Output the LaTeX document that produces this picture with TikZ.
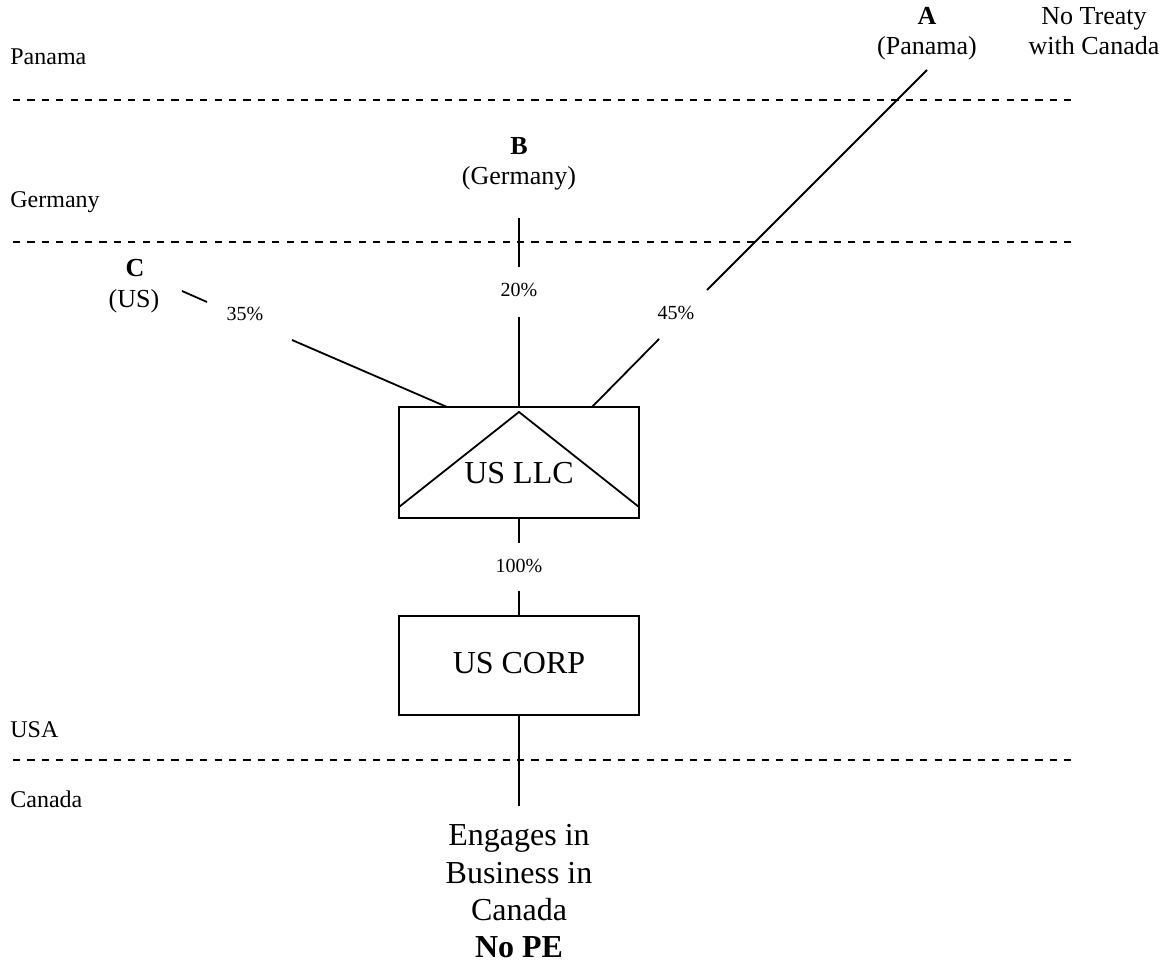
\documentclass[tikz,border=0pt]{standalone}
\usepackage{fontspec}
\setmainfont{Liberation Serif}
\begin{document}
\begin{tikzpicture}[x=0.5pt,y=-0.5pt,
  country/.style={font=\fontsize{12}{14}\selectfont, anchor=base west, inner sep=0pt},
  ent/.style={font=\fontsize{13}{15}\selectfont, anchor=base, inner sep=0pt},
  pct/.style={font=\fontsize{10}{12}\selectfont, anchor=base, inner sep=0pt},
  big/.style={font=\fontsize{16}{18.5}\selectfont, anchor=base, inner sep=0pt},
  border/.style={line width=0.75pt, dash pattern=on 3.6pt off 3.6pt},
  conn/.style={line width=0.9pt},
  box/.style={draw, line width=1pt, inner sep=0pt, minimum width=120pt}
]
\useasboundingbox (0,0) rectangle (1168,962);

% country labels and borders
\node[country] (lpan) at (10,65) {Panama};
\node[country] (lger) at (10,208) {Germany};
\node[country] (lusa) at (10,737) {USA};
\node[country] (lcan) at (10,807) {Canada};
\coordinate (d1l) at (13,100); \coordinate (d1r) at (1072,100);
\coordinate (d2l) at (13,242); \coordinate (d2r) at (1072,242);
\coordinate (d3l) at (13,760); \coordinate (d3r) at (1072,760);
\draw[border] (d1l) -- (d1r);
\draw[border] (d2l) -- (d2r);
\draw[border] (d3l) -- (d3r);

% shareholders
\node[ent] (A) at (927,25) {\textbf{A}};
\node[ent] (Aname) at (927,55) {(Panama)};
\node[ent] (nt1) at (1094,25) {No Treaty};
\node[ent] (nt2) at (1094,55) {with Canada};
\node[ent] (B) at (519,155) {\textbf{B}};
\node[ent] (Bname) at (519,185) {(Germany)};
\node[ent] (C) at (135,277) {\textbf{C}};
\node[ent] (Cname) at (134,308) {(US)};

% boxes
\node[box, minimum height=55.5pt] (llc) at (519,462.5) {};
\node[big] (llct) at (519,484) {US LLC};
\coordinate (t1) at (399,507); \coordinate (t2) at (519,412); \coordinate (t3) at (639,507);
\draw[conn] (t1) -- (t2) -- (t3);
\node[box, minimum height=49.5pt] (corp) at (519,665.5) {};
\node[big] (corpt) at (519,673) {US CORP};

% percentages
\node[pct] (p20) at (519,297) {20\%};
\node[pct] (p45) at (676,320) {45\%};
\node[pct] (p35) at (245,321) {35\%};
\node[pct] (p100) at (519,573) {100\%};

% connectors
\coordinate (b1) at (519,218); \coordinate (b2) at (519,267); \coordinate (b3) at (519,317);
\draw[conn] (b1) -- (b2);
\draw[conn] (b3) -- (llc.north);
\coordinate (a1) at (927,70); \coordinate (a2) at (707,290); \coordinate (a3) at (659,339); \coordinate (a4) at (592,407);
\draw[conn] (a1) -- (a2);
\draw[conn] (a3) -- (a4);
\coordinate (c1) at (182,291); \coordinate (c2) at (207,302); \coordinate (c3) at (292,340); \coordinate (c4) at (447,407);
\draw[conn] (c1) -- (c2);
\draw[conn] (c3) -- (c4);
\coordinate (h1) at (519,543); \coordinate (h2) at (519,591);
\draw[conn] (llc.south) -- (h1);
\draw[conn] (h2) -- (corp.north);
\coordinate (e1) at (519,806);
\draw[conn] (corp.south) -- (e1);

% bottom text
\node[big] (eng1) at (519,845) {Engages in};
\node[big] (eng2) at (519,883) {Business in};
\node[big] (eng3) at (519,920) {Canada};
\node[big] (eng4) at (519,957) {\textbf{No PE}};
\end{tikzpicture}
\end{document}
